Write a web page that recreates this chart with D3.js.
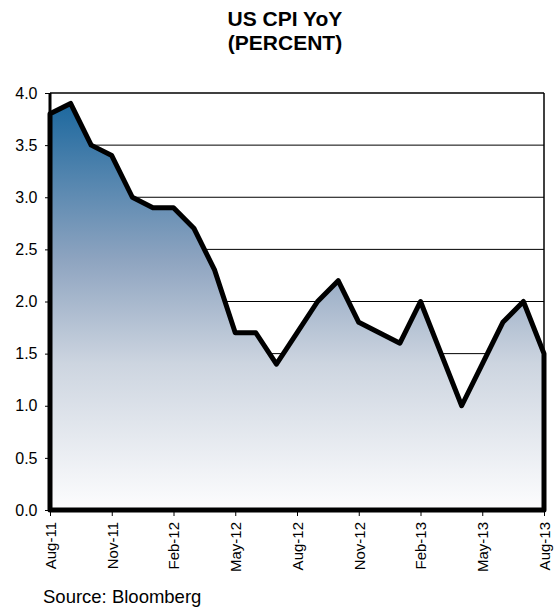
<!DOCTYPE html>
<html>
<head>
<meta charset="utf-8">
<script src="https://cdn.jsdelivr.net/npm/d3@7"></script>
<style>
  body { margin: 0; background: #fff; }
  svg text { font-family: "Liberation Sans", Arial, sans-serif; }
</style>
</head>
<body>
<svg id="chart" width="556" height="608"></svg>
<script>
// monthly CPI YoY, Aug-11 .. Aug-13
const MONTHS = ['Aug-11','Sep-11','Oct-11','Nov-11','Dec-11','Jan-12','Feb-12','Mar-12','Apr-12',
  'May-12','Jun-12','Jul-12','Aug-12','Sep-12','Oct-12','Nov-12','Dec-12','Jan-13','Feb-13',
  'Mar-13','Apr-13','May-13','Jun-13','Jul-13','Aug-13'];
const CPI = [3.8, 3.9, 3.5, 3.4, 3.0, 2.9, 2.9, 2.7, 2.3, 1.7, 1.7, 1.4, 1.7, 2.0, 2.2, 1.8, 1.7, 1.6,
  2.0, 1.5, 1.0, 1.4, 1.8, 2.0, 1.5];
const X_TICKS = ['Aug-11','Nov-11','Feb-12','May-12','Aug-12','Nov-12','Feb-13','May-13','Aug-13'];
const Y_TICKS = [0, 0.5, 1.0, 1.5, 2.0, 2.5, 3.0, 3.5, 4.0];

const svg = d3.select('#chart');
const PLOT_LEFT = 50, PLOT_RIGHT = 544, PLOT_TOP = 93, PLOT_BOTTOM = 510;

const x = d3.scalePoint().domain(MONTHS).range([PLOT_LEFT, PLOT_RIGHT]);
const y = d3.scaleLinear().domain([0, 4]).range([PLOT_BOTTOM, PLOT_TOP]);

// title
svg.append('text').attr('x', 285).attr('y', 26).attr('text-anchor', 'middle')
  .style('font-size', '21px').style('font-weight', 'bold').text('US CPI YoY');
svg.append('text').attr('x', 285).attr('y', 50).attr('text-anchor', 'middle')
  .style('font-size', '21px').style('font-weight', 'bold').text('(PERCENT)');

// gradient for the area
const grad = svg.append('defs').append('linearGradient')
  .attr('id', 'fillGrad').attr('gradientUnits', 'userSpaceOnUse')
  .attr('x1', 0).attr('x2', 0).attr('y1', y(4)).attr('y2', y(0));
grad.append('stop').attr('offset', '0%').attr('stop-color', '#15649c');
grad.append('stop').attr('offset', '40%').attr('stop-color', '#8ea4c0');
grad.append('stop').attr('offset', '65%').attr('stop-color', '#cdd5e0');
grad.append('stop').attr('offset', '100%').attr('stop-color', '#fdfdfe');

// grid lines
svg.selectAll('.grid')
  .data(Y_TICKS.filter(d => d > 0 && d < 4))
  .enter()
  .append('line')
  .attr('class', 'grid')
  .attr('x1', PLOT_LEFT).attr('x2', PLOT_RIGHT)
  .attr('y1', d => y(d)).attr('y2', d => y(d))
  .attr('stroke', '#000').attr('stroke-width', 1);

// frame top / right
svg.append('line').attr('x1', PLOT_LEFT).attr('x2', PLOT_RIGHT).attr('y1', y(4)).attr('y2', y(4))
  .attr('stroke', '#000').attr('stroke-width', 1.5);
svg.append('line').attr('x1', PLOT_RIGHT).attr('x2', PLOT_RIGHT).attr('y1', y(4)).attr('y2', y(0))
  .attr('stroke', '#000').attr('stroke-width', 1.5);

// area with thick outline
const area = d3.area()
  .x((d, i) => x(MONTHS[i]))
  .y0(y(0))
  .y1(d => y(d));
svg.append('path')
  .datum(CPI)
  .attr('d', d => area(d))
  .attr('fill', 'url(#fillGrad)')
  .attr('stroke', '#000')
  .attr('stroke-width', 5)
  .attr('stroke-linejoin', 'round');

// left axis line
svg.append('line').attr('x1', PLOT_LEFT).attr('x2', PLOT_LEFT).attr('y1', y(4)).attr('y2', y(0))
  .attr('stroke', '#000').attr('stroke-width', 3);

// y axis
const yAxis = svg.append('g')
  .attr('transform', `translate(${PLOT_LEFT - 1},0)`)
  .call(d3.axisLeft(y).tickValues(Y_TICKS).tickFormat(d3.format('.1f')).tickSize(4).tickPadding(7.5));
yAxis.select('.domain').remove();
yAxis.selectAll('text').style('font-size', '16px').attr('fill', '#000');

// x axis
const xAxis = svg.append('g')
  .attr('transform', `translate(0,${PLOT_BOTTOM + 2})`)
  .call(d3.axisBottom(x).tickValues(X_TICKS).tickSize(4).tickPadding(4));
xAxis.select('.domain').remove();
xAxis.selectAll('text')
  .style('font-size', '15px').attr('fill', '#000')
  .attr('text-anchor', 'end')
  .attr('transform', 'rotate(-90)')
  .attr('x', -10).attr('y', 0).attr('dy', '0.35em');

// source
svg.append('text').attr('x', 43).attr('y', 603).style('font-size', '18.5px').text('Source: Bloomberg');
</script>
</body>
</html>
